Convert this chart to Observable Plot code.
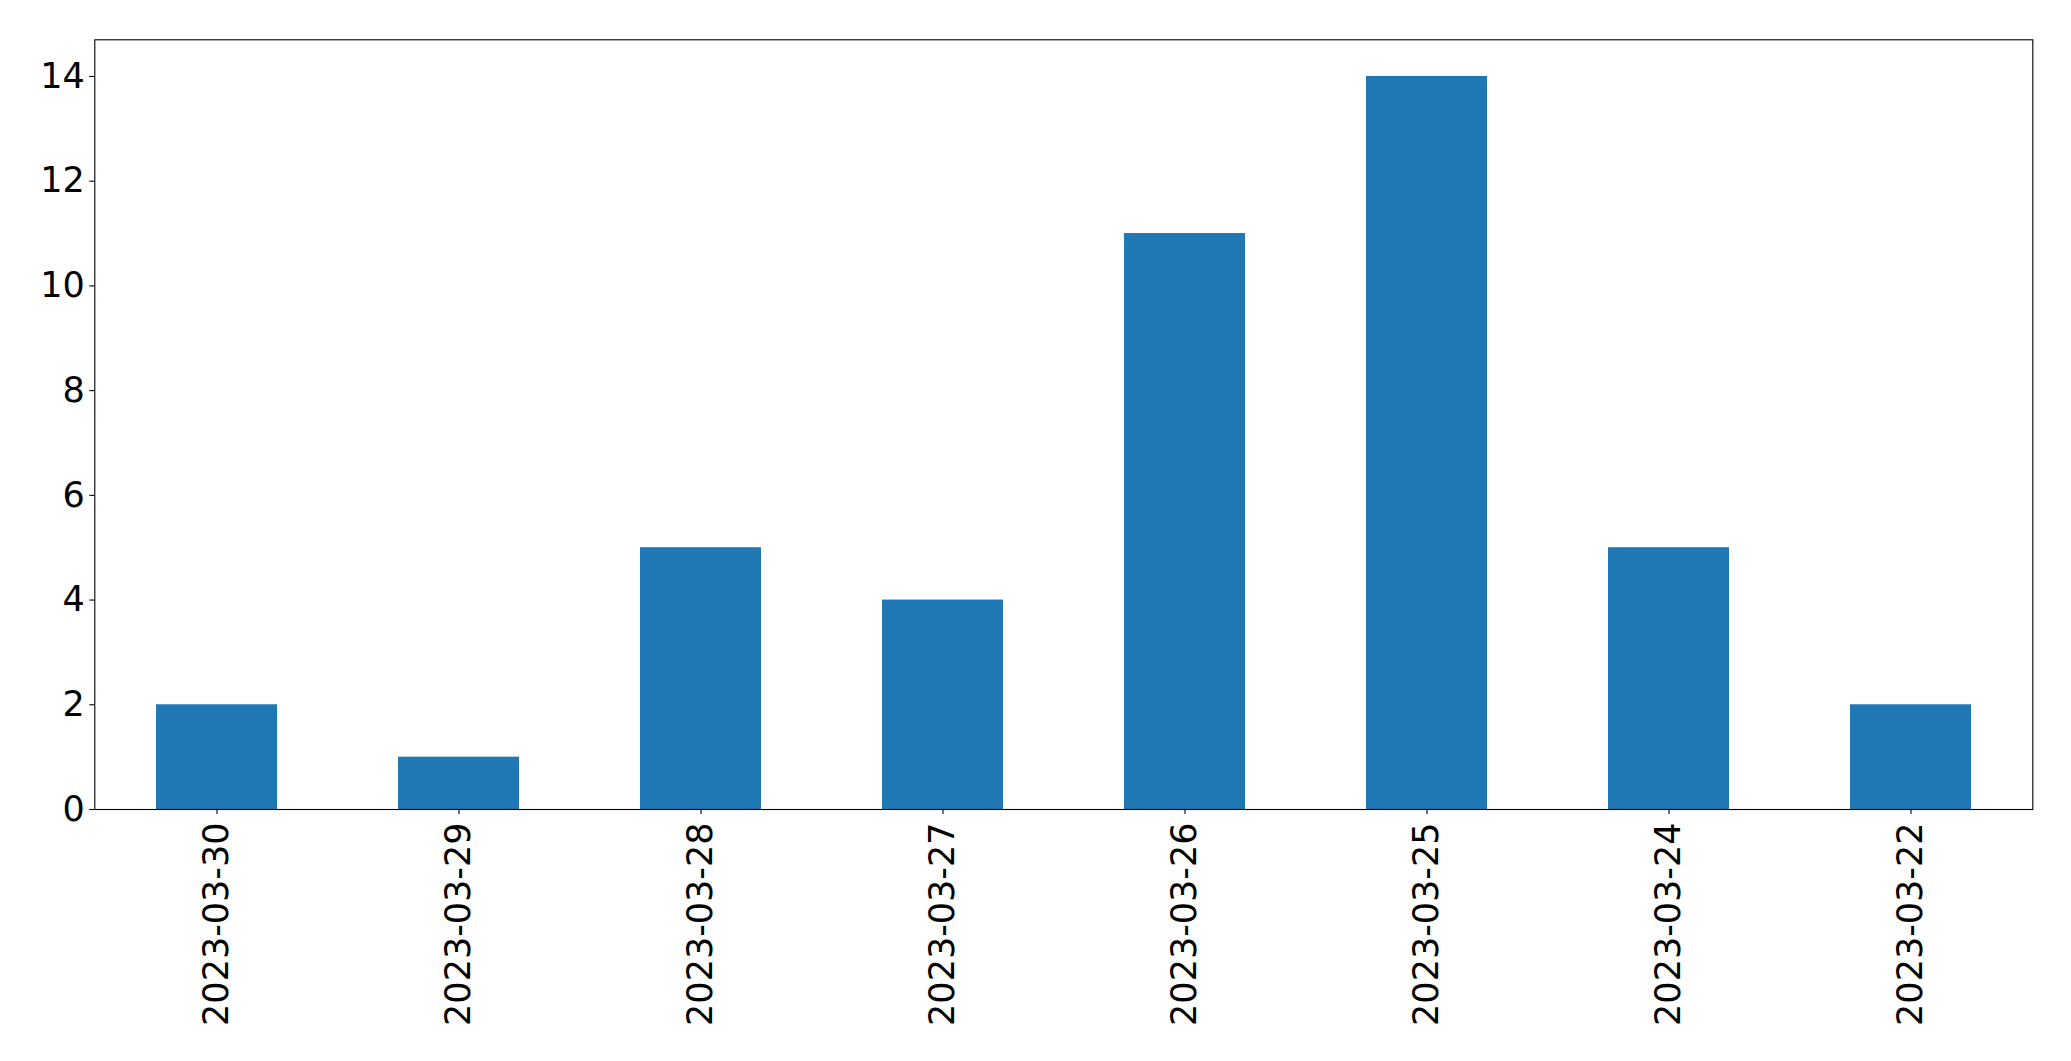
<!DOCTYPE html>
<html>
<head>
<meta charset="utf-8">
<script src="https://cdn.jsdelivr.net/npm/d3@7"></script>
<script src="https://cdn.jsdelivr.net/npm/@observablehq/plot@0.6"></script>
<style>
  html, body { margin: 0; padding: 0; background: #fff; }
  #chart svg { display: block; }
</style>
</head>
<body>
<div id="chart"></div>
<script>
const dates = ["2023-03-30", "2023-03-29", "2023-03-28", "2023-03-27", "2023-03-26", "2023-03-25", "2023-03-24", "2023-03-22"];
const counts = [2, 1, 5, 4, 11, 14, 5, 2];
const yTicks = [0, 2, 4, 6, 8, 10, 12, 14];

const data = dates.map((d, i) => ({date: d, count: counts[i]}));

const chart = Plot.plot({
  width: 2071,
  height: 1061,
  marginLeft: 94.3,
  marginRight: 38.7,
  marginTop: 39.3,
  marginBottom: 252,
  style: {fontFamily: "DejaVu Sans", fontSize: "34.7px", color: "black", background: "white"},
  x: {type: "band", domain: dates, paddingInner: 0.5, paddingOuter: 0.25, label: null},
  y: {domain: [0, 14.7], label: null},
  marks: [
    Plot.barY(data, {x: "date", y: "count", fill: "#1f77b4"}),
    Plot.axisY({ticks: yTicks, tickSize: 5, tickPadding: 5, fontSize: 35, label: null, stroke: "black", strokeWidth: 1.1, strokeOpacity: 1}),
    Plot.axisX({tickRotate: -90, tickSize: 5, tickPadding: 8, fontSize: 35, label: null, stroke: "black", strokeWidth: 1.1, strokeOpacity: 1}),
    Plot.frame({stroke: "black", strokeWidth: 1.1})
  ]
});
document.getElementById("chart").appendChild(chart);
</script>
</body>
</html>
